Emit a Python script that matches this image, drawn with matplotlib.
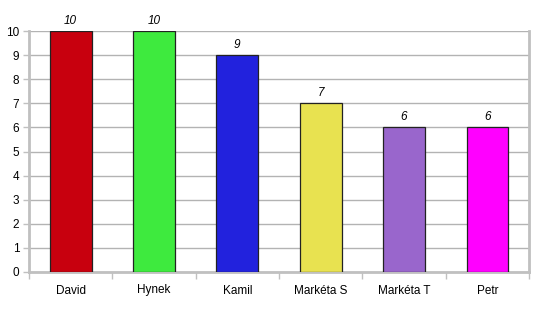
import matplotlib.pyplot as plt
import numpy as np

names = ["David", "Hynek", "Kamil", "Markéta S", "Markéta T", "Petr"]
scores = [10, 10, 9, 7, 6, 6]
colors = ["#c8000e", "#3eea3e", "#2222dd", "#e8e250", "#9966cc", "#ff00ff"]
yticks = list(range(0, 11))

plt.rcParams['font.family'] = ['Liberation Sans', 'DejaVu Sans']

fig = plt.figure(figsize=(5.46, 3.14), dpi=100)
ax = fig.add_axes([29 / 546, 42 / 314, 500 / 546, 241 / 314])

x = np.arange(len(names))
bars = ax.bar(x, scores, width=0.5, color=colors, edgecolor="#222222", linewidth=0.9, zorder=3)
for xi, v in zip(x, scores):
    ax.text(xi, v + 0.18, str(v), ha="center", va="bottom", fontsize=8.5, style="italic")

ax.set_xlim(-0.5, len(names) - 0.5)
ax.set_ylim(0, 10)
ax.set_yticks(yticks)
ax.set_yticklabels([str(t) for t in yticks], fontsize=8.5)
ax.yaxis.grid(True, color="#b3b3b3", linewidth=1, zorder=0)

ax.set_xticks(x)
ax.set_xticklabels(names, fontsize=8.5)
ax.tick_params(axis="x", length=0, pad=9)
ax.set_xticks(np.arange(-0.5, len(names)), minor=True)
ax.tick_params(axis="x", which="minor", length=5, color="#c0c0c0", width=1)
ax.tick_params(axis="y", length=4, color="#c0c0c0", width=1, pad=3)

for s in ["left", "bottom", "right"]:
    ax.spines[s].set_color("#c0c0c0")
    ax.spines[s].set_linewidth(2)
ax.spines["top"].set_visible(False)

fig.savefig("out.png", dpi=100)
